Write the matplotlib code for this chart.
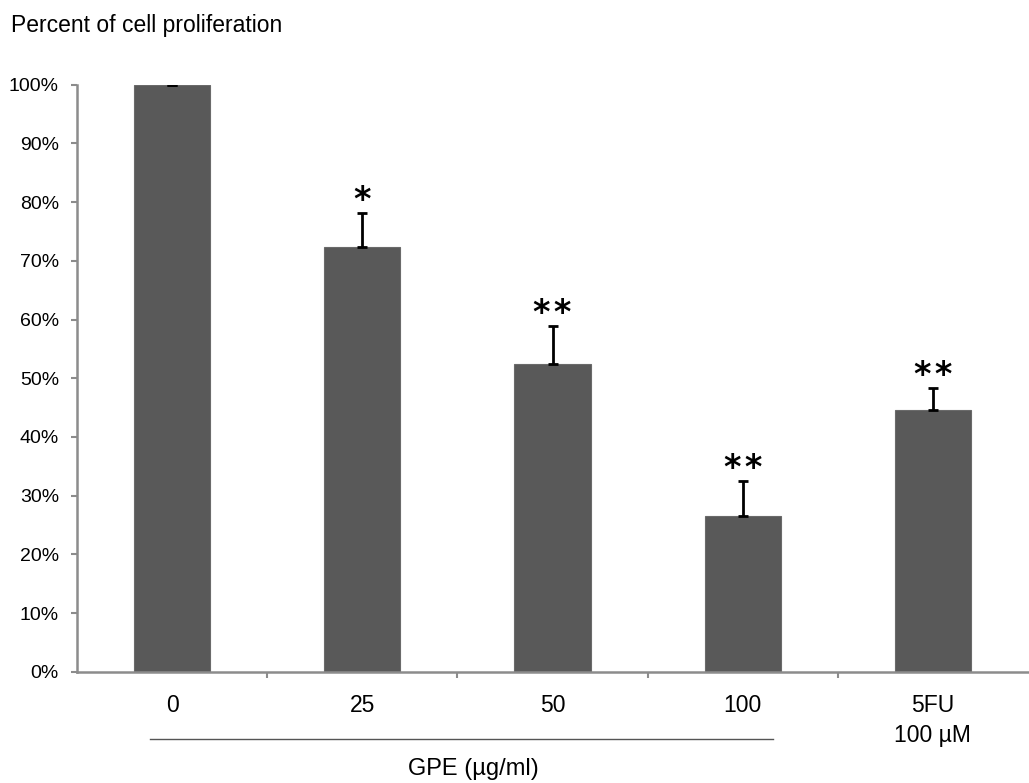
import matplotlib
matplotlib.use("Agg")
import matplotlib.pyplot as plt
from matplotlib.lines import Line2D
from matplotlib.ticker import PercentFormatter

plt.rcParams['font.family'] = ['Liberation Sans', 'DejaVu Sans']

# Treatment groups and measured proliferation (percent of control)
categories = ["0", "25", "50", "100", "5FU\n100 µM"]
proliferation = [100.0, 72.4, 52.4, 26.5, 44.5]
sem = [0.0, 5.8, 6.5, 6.0, 3.8]
significance = ["", "*", "**", "**", "**"]

W, H, DPI = 1029, 783, 100
fig = plt.figure(figsize=(W / DPI, H / DPI), dpi=DPI)
ax = fig.add_axes([77 / W, 1 - 671.7 / H, (1028 - 77) / W, (671.7 - 84.7) / H])

pos = list(range(len(categories)))
bar_color = "#595959"
axis_color = "#8c8c8c"

ax.bar(pos, proliferation, width=0.4, color=bar_color, edgecolor="#6a6a6a",
       linewidth=0.8, zorder=2)
ax.errorbar(pos, proliferation, yerr=[[0] * len(sem), sem], fmt="none",
            ecolor="black", elinewidth=2, capsize=3.5, capthick=2, zorder=3)

for x, v, e, s in zip(pos, proliferation, sem, significance):
    if s:
        ax.annotate("\u200a".join(s), (x, v + e), xytext=(0, 2),
                    textcoords="offset points", ha="center", va="baseline",
                    fontsize=24, fontweight="bold", family="DejaVu Sans")

ax.set_xlim(-0.5, len(categories) - 0.5)
ax.set_ylim(0, 100)
ax.set_yticks(range(0, 101, 10))
ax.yaxis.set_major_formatter(PercentFormatter(decimals=0))

# Tick marks sit between groups; labels sit under the bars
ax.set_xticks([p + 0.5 for p in pos[:-1]])
ax.set_xticklabels([])
ax.set_xticks(pos, minor=True)
ax.set_xticklabels(categories, minor=True, linespacing=1.4)
ax.tick_params(axis="x", which="minor", length=0, pad=16, labelsize=16.5)
ax.tick_params(axis="x", which="major", length=4, width=1.5, color=axis_color,
               direction="out")
ax.tick_params(axis="y", length=4, width=1.5, color=axis_color, pad=9,
               labelsize=14)

for side in ("top", "right"):
    ax.spines[side].set_visible(False)
for side in ("left", "bottom"):
    ax.spines[side].set_color(axis_color)
    ax.spines[side].set_linewidth(1.8)

# Bracket line grouping the GPE concentrations
fig.add_artist(Line2D([150 / W, 773 / W], [1 - 739.3 / H, 1 - 739.3 / H],
                      color="#555555", linewidth=1.0, transform=fig.transFigure))
fig.text(473 / W, 1 - 775 / H, "GPE (µg/ml)", ha="center", va="baseline",
         fontsize=17)

fig.text(11 / W, 1 - 32 / H, "Percent of cell proliferation", ha="left",
         va="baseline", fontsize=16.5)

fig.savefig("out.png", dpi=DPI, facecolor="white")
